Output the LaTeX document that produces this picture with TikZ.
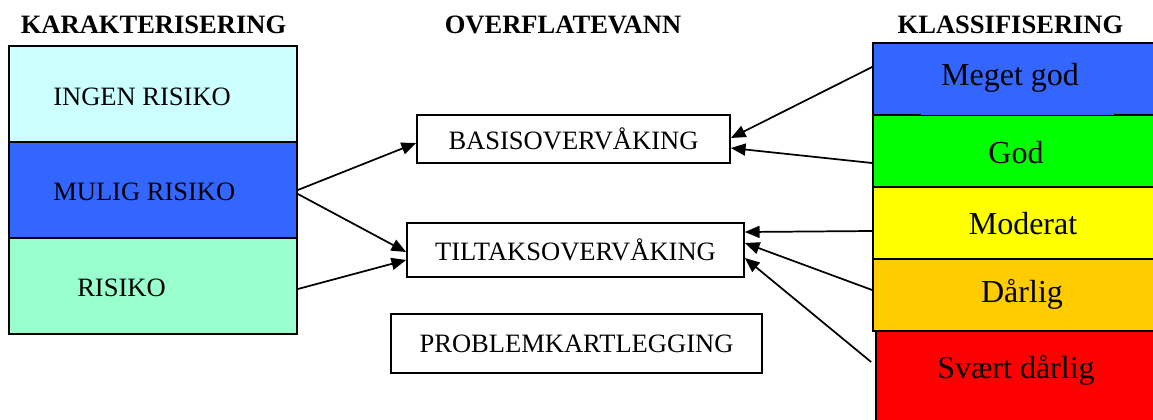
\documentclass[tikz,border=0pt]{standalone}
\usepackage{fontspec}
\setmainfont{Liberation Serif}
\usetikzlibrary{arrows.meta,calc}
\definecolor{lcyan}{HTML}{CCFFFF}
\definecolor{mblue}{HTML}{3366FF}
\definecolor{mint}{HTML}{99FFCC}
\definecolor{mgreen}{HTML}{00FF00}
\definecolor{myellow}{HTML}{FFFF00}
\definecolor{morange}{HTML}{FFCC00}
\definecolor{mred}{HTML}{FF0000}
\tikzset{
  lbox/.style={draw=black, line width=1.3pt, minimum width=216pt, minimum height=72pt, inner sep=0pt},
  rbox/.style={draw=black, line width=1.3pt, minimum width=215.25pt, minimum height=54pt, inner sep=0pt},
  mbox/.style={draw=black, line width=1.3pt, inner sep=0pt, font=\fontsize{19.9}{24}\selectfont},
  ltxt/.style={anchor=base west, inner sep=0pt, font=\fontsize{19.9}{24}\selectfont},
  rtxt/.style={anchor=base, inner sep=0pt, font=\fontsize{24}{29}\selectfont},
  ttl/.style={anchor=base, inner sep=0pt, font=\fontsize{19.9}{24}\selectfont\bfseries},
  arr/.style={line width=1.3pt, -{Triangle[length=11pt,width=9pt]}}
}
\begin{document}
\begin{tikzpicture}[x=0.75pt,y=-0.75pt]
\useasboundingbox (0,0) rectangle (1153,419);
% titles
\node[ttl] (t1) at (153.5,33) {KARAKTERISERING};
\node[ttl] (t2) at (563,33) {OVERFLATEVANN};
\node[ttl] (t3) at (1010.5,33) {KLASSIFISERING};
% left boxes
\node[lbox, fill=lcyan] (ingen) at (153,94) {};
\node[lbox, fill=mblue] (mulig) at (153,190) {};
\node[lbox, fill=mint] (risiko) at (153,286) {};
\node[ltxt] (ingent) at (53,105) {INGEN RISIKO};
\node[ltxt] (muligt) at (53,200) {MULIG RISIKO};
\node[ltxt] (risikot) at (77,296) {RISIKO};
% middle boxes
\node[mbox, minimum width=234.75pt, minimum height=36pt] (basis) at (573.5,139) {BASISOVERVÅKING};
\node[mbox, minimum width=252.75pt, minimum height=40.5pt] (tiltak) at (575.5,250) {TILTAKSOVERVÅKING};
\node[mbox, minimum width=278.25pt, minimum height=44.25pt] (problem) at (576.5,343.5) {PROBLEMKARTLEGGING};
% right boxes
\node[rbox, fill=mblue] (meget) at (1016.5,79) {};
\node[rbox, fill=mgreen] (god) at (1016.5,151) {};
\node[rbox, fill=myellow] (moderat) at (1016.5,223) {};
\node[rbox, fill=morange] (darlig) at (1016.5,295) {};
\node[rbox, fill=mred, minimum width=213pt, minimum height=74.25pt] (svaert) at (1018,380.5) {};
\fill[mblue] (921,112.4) rectangle (1114,115.2);
\node[rtxt] (megett) at (1010,85) {Meget god};
\node[rtxt] (godt) at (1016,163) {God};
\node[rtxt] (moderatt) at (1023,234) {Moderat};
\node[rtxt] (darligt) at (1022,302) {Dårlig};
\node[rtxt] (svaertt) at (1016,378) {Svært dårlig};
% arrows left
\draw[arr] (mulig.east) -- ($(basis.west)+(0,4)$);
\draw[arr] ($(mulig.east)+(0,4)$) -- ($(tiltak.west)+(0,2)$);
\draw[arr] ($(risiko.east)+(0,3)$) -- ($(tiltak.west)+(0,10)$);
% arrows right
\draw[arr] ($(meget.west)+(0,-12)$) -- ($(basis.east)+(0,-1)$);
\draw[arr] ($(god.west)+(0,12)$) -- ($(basis.east)+(0,9)$);
\draw[arr] ($(moderat.west)+(0,8)$) -- ($(tiltak.east)+(0,-18)$);
\draw[arr] ($(darlig.west)+(0,-5)$) -- ($(tiltak.east)+(0,-7)$);
\draw[arr] ($(svaert.west)+(-4,-18.5)$) -- ($(tiltak.east)+(0,8)$);
\end{tikzpicture}
\end{document}
